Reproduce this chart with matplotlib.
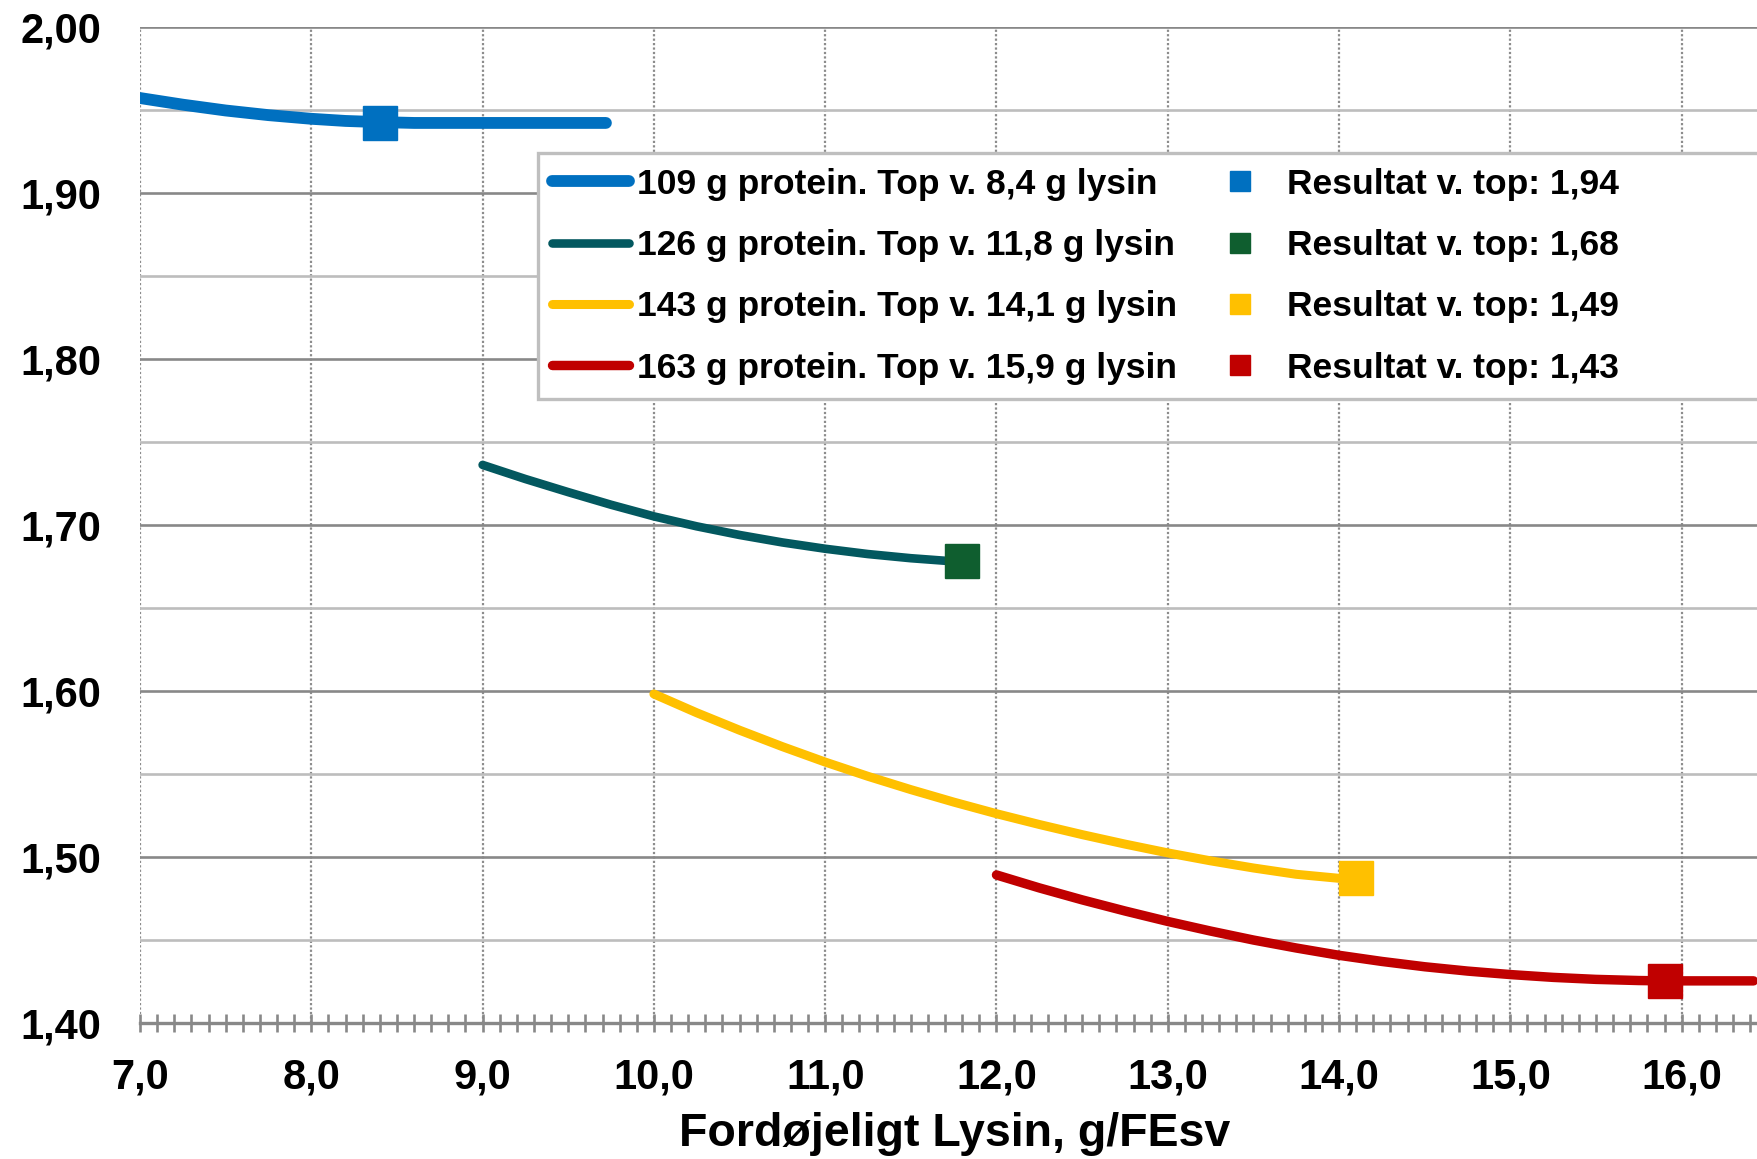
import matplotlib
matplotlib.use("Agg")
import matplotlib.pyplot as plt
from matplotlib.lines import Line2D
from matplotlib.patches import Rectangle
from matplotlib.ticker import MultipleLocator, FuncFormatter

plt.rcParams['font.family'] = ['Liberation Sans', 'DejaVu Sans']
plt.rcParams['font.weight'] = 'bold'

# curves (lysin g/FEsv -> result)
x109 = [7.0, 7.25, 7.5, 7.75, 8.0, 8.2, 8.4, 8.6, 9.72]
y109 = [1.9570, 1.9530, 1.9495, 1.9467, 1.9445, 1.9432, 1.9425, 1.9420, 1.9420]
x126 = [9.0, 9.25, 9.5, 9.75, 10.0, 10.25, 10.5, 10.75, 11.0, 11.25, 11.5, 11.8]
y126 = [1.7360, 1.7275, 1.7196, 1.7120, 1.7050, 1.6990, 1.6938, 1.6893, 1.6855,
        1.6823, 1.6798, 1.6775]
x143 = [10.0, 10.25, 10.5, 10.75, 11.0, 11.25, 11.5, 11.75, 12.0, 12.25, 12.5,
        12.75, 13.0, 13.25, 13.5, 13.75, 14.1]
y143 = [1.5980, 1.5867, 1.5762, 1.5663, 1.5570, 1.5484, 1.5404, 1.5329, 1.5259,
        1.5194, 1.5133, 1.5076, 1.5023, 1.4975, 1.4932, 1.4894, 1.4860]
x163 = [12.0, 12.25, 12.5, 12.75, 13.0, 13.25, 13.5, 13.75, 14.0, 14.25, 14.5,
        14.75, 15.0, 15.25, 15.5, 15.75, 15.9, 16.42]
y163 = [1.4890, 1.4812, 1.4740, 1.4673, 1.4610, 1.4552, 1.4498, 1.4450, 1.4406,
        1.4369, 1.4337, 1.4311, 1.4290, 1.4273, 1.4261, 1.4254, 1.4252, 1.4252]

top_x = [8.4, 11.8, 14.1, 15.9]
top_y = [1.942, 1.678, 1.487, 1.425]
top_vals = ["1,94", "1,68", "1,49", "1,43"]

curve_labels = [
    "109 g protein. Top v. 8,4 g lysin",
    "126 g protein. Top v. 11,8 g lysin",
    "143 g protein. Top v. 14,1 g lysin",
    "163 g protein. Top v. 15,9 g lysin",
]
line_colors = ["#0070C0", "#03585F", "#FFC000", "#C00000"]
marker_colors = ["#0070C0", "#0F5E2F", "#FFC000", "#C00000"]
line_widths = [8.5, 6.2, 6.5, 6.8]

fig = plt.figure(figsize=(17.57, 11.59), dpi=100)
ax = fig.add_axes([0.0797, 0.1176, 0.9203, 0.8594])

curves = [(x109, y109), (x126, y126), (x143, y143), (x163, y163)]
line_handles = []
for (xs, ys), c, lw, lab in zip(curves, line_colors, line_widths, curve_labels):
    h, = ax.plot(xs, ys, color=c, lw=lw, solid_capstyle='round',
                 solid_joinstyle='round', zorder=3, label=lab)
    line_handles.append(h)

marker_handles = []
for xv, yv, c, v in zip(top_x, top_y, marker_colors, top_vals):
    ax.plot([xv], [yv], 's', color=c, markersize=24, zorder=4)
    marker_handles.append(Line2D([], [], ls='none', marker='s', color=c,
                                 markersize=14.5, label=f"Resultat v. top: {v}"))

ax.set_xlim(7.0, 16.44)
ax.set_ylim(1.40, 2.00)

ax.xaxis.set_major_locator(MultipleLocator(1.0))
ax.xaxis.set_minor_locator(MultipleLocator(0.1))
ax.yaxis.set_major_locator(MultipleLocator(0.1))
ax.yaxis.set_minor_locator(MultipleLocator(0.05))
ax.xaxis.set_major_formatter(FuncFormatter(lambda v, p: f"{v:.1f}".replace(".", ",")))
ax.yaxis.set_major_formatter(FuncFormatter(lambda v, p: f"{v:.2f}".replace(".", ",")))

ax.grid(True, axis='y', which='major', color='#888888', lw=1.9, zorder=0)
ax.grid(True, axis='y', which='minor', color='#BDBDBD', lw=1.9, zorder=0)
ax.grid(True, axis='x', which='major', color='#8C8C8C', lw=1.6, ls=(0, (1, 1)), zorder=0)
ax.set_axisbelow(True)

for s in ['left', 'right', 'top']:
    ax.spines[s].set_visible(False)
ax.spines['bottom'].set_color('#888888')
ax.spines['bottom'].set_linewidth(2.4)

ax.tick_params(axis='x', which='both', direction='inout', length=12.7, width=1.9,
               color='#888888', labelsize=30, pad=18.5)
ax.tick_params(axis='y', which='both', length=0, labelsize=30, pad=28)
for t in ax.get_xticklabels() + ax.get_yticklabels():
    t.set_fontweight('bold')

xl = ax.set_xlabel("Fordøjeligt Lysin, g/FEsv", fontsize=33.5, fontweight='bold')
xl.set_va('baseline')
ax.xaxis.set_label_coords(0.5035, -0.1235)

leg = ax.legend(handles=line_handles + marker_handles, ncol=2, loc='upper left',
                bbox_to_anchor=(0.246, 0.8727), borderaxespad=0,
                handlelength=2.17, handletextpad=0.23, columnspacing=0.69,
                labelspacing=0.80, borderpad=0.40, fancybox=False, framealpha=1,
                edgecolor='#BFBFBF', prop={'weight': 'bold', 'size': 25.5})
leg.set_zorder(5)

# the legend box of the original runs past the right edge of the picture
fig.canvas.draw()
bb = leg.get_window_extent().transformed(ax.transAxes.inverted())
leg.set_frame_on(False)
ax.add_patch(Rectangle((bb.x0, bb.y0), 1.2 - bb.x0, bb.height, transform=ax.transAxes,
                       facecolor='white', edgecolor='#BFBFBF', lw=2.4,
                       clip_on=False, zorder=4.9))

fig.savefig("out.png", dpi=100)
